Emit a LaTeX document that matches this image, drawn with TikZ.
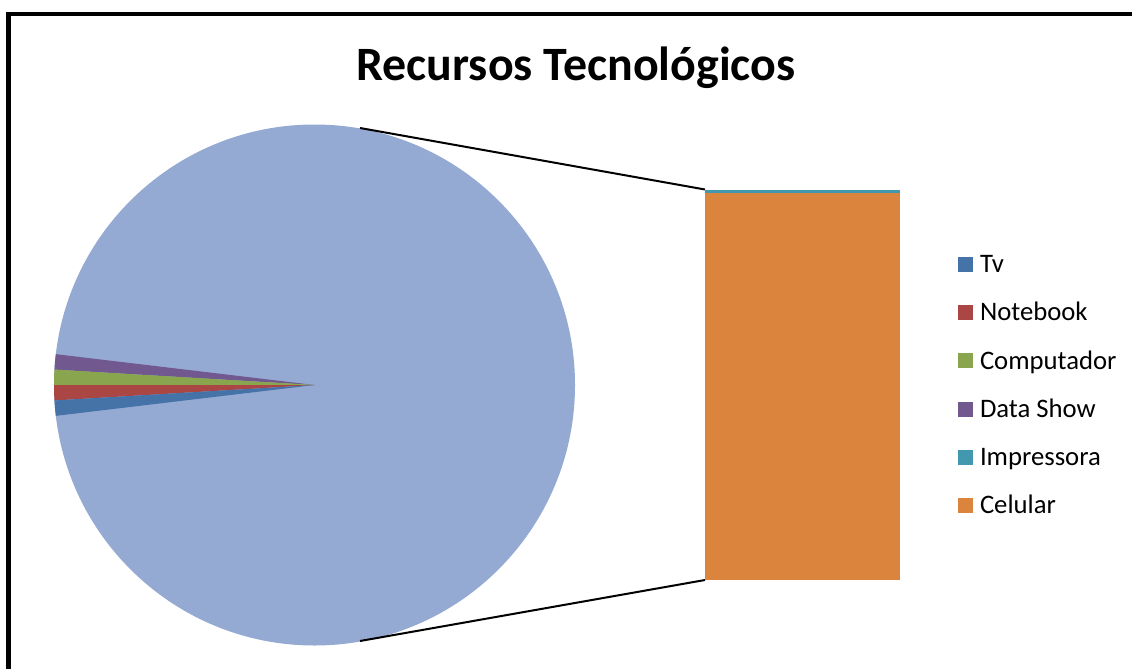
\documentclass[tikz,border=0pt]{standalone}
\usepackage{fontspec}
\setmainfont{Carlito}
\definecolor{cTv}{HTML}{4572A7}
\definecolor{cNote}{HTML}{AA4643}
\definecolor{cComp}{HTML}{89A54E}
\definecolor{cData}{HTML}{71588F}
\definecolor{cImp}{HTML}{4198AF}
\definecolor{cCel}{HTML}{DB843D}
\definecolor{cPie}{HTML}{95AAD2}
\tikzset{
  legkey/.style={minimum size=15pt,inner sep=0pt,outer sep=0pt,anchor=north west},
  legtext/.style={anchor=base west,inner sep=0pt,outer sep=0pt,font=\fontsize{26.7}{30}\selectfont,text=black},
  leader/.style={draw=black,line width=2pt},
  frameline/.style={draw=black,line width=4.6pt,line cap=butt,line join=miter}
}
\begin{document}
\begin{tikzpicture}[x=1pt,y=-1pt]
\useasboundingbox (0,0) rectangle (1132,669);
\fill[white] (0,0) rectangle (1132,669);
\coordinate (fa) at (8.5,669);
\coordinate (fb) at (8.5,14);
\coordinate (fc) at (1132,14);
\draw[frameline] (fa) -- (fb) -- (fc);
\node[anchor=base,inner sep=0pt,font=\fontsize{47.9}{54}\selectfont\bfseries] (title) at (576,81) {Recursos Tecnológicos};
% pie
\coordinate (pc) at (314.5,385);
\fill[cPie] (pc) circle[radius=260.5];
\fill[cData] (pc) -- ++(-258.67,-30.84) arc[start angle=186.8,end angle=183.4,radius=260.5] -- cycle;
\fill[cComp] (pc) -- ++(-260.04,-15.45) arc[start angle=183.4,end angle=180,radius=260.5] -- cycle;
\fill[cNote] (pc) -- ++(-260.5,0) arc[start angle=180,end angle=176.6,radius=260.5] -- cycle;
\fill[cTv] (pc) -- ++(-260.04,15.45) arc[start angle=176.6,end angle=173.2,radius=260.5] -- cycle;
% bar
\node[fill=cImp,minimum width=195pt,minimum height=3.5pt,inner sep=0pt,outer sep=0pt,anchor=north west] (barImp) at (705,189.5) {};
\node[fill=cCel,minimum width=195pt,minimum height=387pt,inner sep=0pt,outer sep=0pt,anchor=north west] (barCel) at (705,193) {};
% leader lines
\coordinate (lt) at (360,128);
\coordinate (lb) at (360,641);
\draw[leader] (lt) -- (barImp.north west);
\draw[leader] (lb) -- (barCel.south west);
% legend
\node[legkey,fill=cTv] (k1) at (958,257) {};
\node[legkey,fill=cNote] (k2) at (958,305) {};
\node[legkey,fill=cComp] (k3) at (958,353) {};
\node[legkey,fill=cData] (k4) at (958,402) {};
\node[legkey,fill=cImp] (k5) at (958,450) {};
\node[legkey,fill=cCel] (k6) at (958,498) {};
\node[legtext] (t1) at (980,272.5) {Tv};
\node[legtext] (t2) at (980,320.5) {Notebook};
\node[legtext] (t3) at (980,369) {Computador};
\node[legtext] (t4) at (980,417.5) {Data Show};
\node[legtext] (t5) at (980,465.5) {Impressora};
\node[legtext] (t6) at (980,513.5) {Celular};
\end{tikzpicture}
\end{document}
